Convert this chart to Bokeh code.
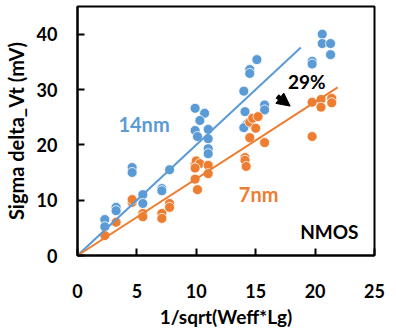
from bokeh.plotting import figure
from bokeh.models import Range1d, Label, Arrow, NormalHead, FixedTicker, ColumnDataSource
from bokeh.embed import file_html
from bokeh.resources import INLINE

# ---- data ----
x14 = [2.3, 2.3, 3.25, 3.25, 4.6, 4.6, 5.5, 5.5, 7.1, 7.1, 7.75,
       9.9, 10.7, 10.3, 9.9, 10.1, 11.0, 11.0, 11.0, 11.0,
       14.0, 14.5, 14.5, 15.1, 14.1, 14.3, 14.0, 15.75, 15.75,
       19.75, 19.75, 20.6, 20.6, 21.3, 21.3]
y14 = [6.5, 5.2, 8.7, 8.1, 15.9, 15.0, 11.0, 9.4, 12.1, 11.7, 15.5,
       26.6, 25.7, 24.4, 22.6, 21.5, 22.8, 21.1, 19.3, 18.4,
       29.7, 33.6, 32.9, 35.4, 26.0, 23.8, 23.1, 27.2, 26.3,
       35.1, 34.6, 40.0, 38.3, 38.3, 36.3]

x7 = [2.3, 3.25, 4.6, 4.6, 5.5, 5.5, 7.1, 7.1, 7.75, 7.75,
      9.9, 10.0, 10.3, 9.9, 11.0, 11.0, 9.9, 10.1,
      14.1, 14.1, 14.2, 14.5, 14.75, 15.2, 15.0, 14.5, 15.75,
      19.75, 19.75, 20.5, 20.5, 21.4, 21.4]
y7 = [3.6, 6.0, 9.6, 10.1, 7.6, 7.0, 7.6, 6.7, 9.4, 8.7,
      16.6, 17.1, 16.6, 15.8, 16.3, 14.8, 13.8, 11.9,
      17.7, 17.2, 16.1, 24.1, 24.8, 25.1, 23.0, 21.3, 20.4,
      27.7, 21.5, 28.2, 26.8, 28.4, 27.6]

# trend lines (as drawn in the reference)
fit14_x = [0, 18.8]
fit14_y = [0, 37.6]
fit7_x = [0, 21.9]
fit7_y = [0, 30.4]

x_ticks = [0, 5, 10, 15, 20, 25]
y_ticks = [0, 10, 20, 30, 40]

BLUE = "#5b9bd5"
ORANGE = "#ed7d31"
FONT = "Lato"

p = figure(width=396, height=332, output_backend="svg", toolbar_location=None,
           x_range=Range1d(0, 25), y_range=Range1d(0, 45))
p.min_border_left = 75
p.min_border_right = 22
p.min_border_top = 6
p.min_border_bottom = 77
p.background_fill_color = "white"
p.border_fill_color = "white"
p.outline_line_color = "black"
p.outline_line_width = 2
p.xgrid.visible = False
p.ygrid.visible = False

for ax in (p.xaxis[0], p.yaxis[0]):
    ax.axis_line_color = "black"
    ax.axis_line_width = 2
    ax.major_tick_in = 7
    ax.major_tick_out = 0
    ax.major_tick_line_width = 2
    ax.minor_tick_line_color = None
    ax.major_label_text_font = FONT
    ax.major_label_text_font_style = "bold"
    ax.major_label_text_font_size = "18px"
    ax.major_label_text_color = "black"
    ax.axis_label_text_font = FONT
    ax.axis_label_text_font_style = "bold"
    ax.axis_label_text_color = "black"

p.xaxis.axis_label_text_font_size = "19px"
p.yaxis.axis_label_text_font_size = "20px"
p.xaxis.ticker = FixedTicker(ticks=x_ticks)
p.yaxis.ticker = FixedTicker(ticks=y_ticks)
p.xaxis.axis_label = "1/sqrt(Weff*Lg)"
p.yaxis.axis_label = "Sigma delta_Vt (mV)"
p.xaxis.major_label_standoff = 28
p.yaxis.major_label_standoff = 20
p.xaxis.axis_label_standoff = 4
p.yaxis.axis_label_standoff = 6

s14 = ColumnDataSource(dict(x=x14, y=y14))
s7 = ColumnDataSource(dict(x=x7, y=y7))
p.scatter("x", "y", source=s14, size=10, fill_color=BLUE, line_color="white", line_width=0.8)
p.scatter("x", "y", source=s7, size=10, fill_color=ORANGE, line_color="white", line_width=0.8)
p.line(fit14_x, fit14_y, line_color=BLUE, line_width=2)
p.line(fit7_x, fit7_y, line_color=ORANGE, line_width=2)

p.add_layout(Label(x=5.6, y=23.8, text="14nm", text_align="center", text_baseline="middle",
                   text_font=FONT, text_font_style="bold", text_font_size="20px", text_color=BLUE))
p.add_layout(Label(x=15.25, y=11.2, text="7nm", text_align="center", text_baseline="middle",
                   text_font=FONT, text_font_style="bold", text_font_size="20px", text_color=ORANGE))
p.add_layout(Label(x=19.3, y=31.5, text="29%", text_align="center", text_baseline="middle",
                   text_font=FONT, text_font_style="bold", text_font_size="19px", text_color="black"))
p.add_layout(Label(x=21.2, y=4.3, text="NMOS", text_align="center", text_baseline="middle",
                   text_font=FONT, text_font_style="bold", text_font_size="19px", text_color="black"))
p.add_layout(Arrow(x_start=16.8, y_start=28.8, x_end=17.9, y_end=27.0,
                   line_color="black", line_width=5,
                   end=NormalHead(size=13, fill_color="black", line_color="black")))

open("out.html", "w").write(file_html(p, INLINE))
